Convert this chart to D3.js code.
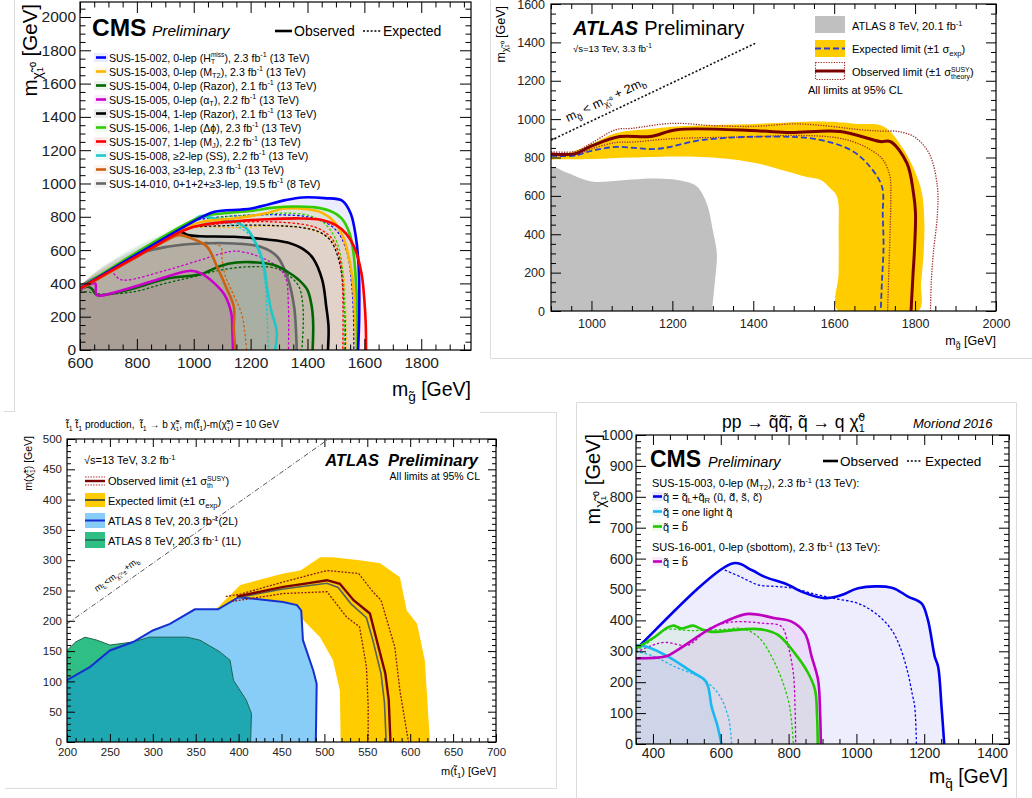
<!DOCTYPE html>
<html><head><meta charset="utf-8">
<script src="https://cdn.jsdelivr.net/npm/d3@7"></script>
<style>body{margin:0;background:#fff}svg{display:block}text{white-space:pre}</style>
</head><body>
<svg id="c" width="1032" height="798"></svg>
<script>
const T = '\u0303';
// ================= DATA =================
// ---- Panel 1: CMS gluino -> q q chi ----
const p1XTicks = [600,800,1000,1200,1400,1600,1800];
const p1YTicks = [0,200,400,600,800,1000,1200,1400,1600,1800,2000];
const p1Labels = [
 'SUS-15-002, 0-lep (H^_{miss|T}), 2.3 fb^{-1} (13 TeV)',
 'SUS-15-003, 0-lep (M_{T2}), 2.3 fb^{-1} (13 TeV)',
 'SUS-15-004, 0-lep (Razor), 2.1 fb^{-1} (13 TeV)',
 'SUS-15-005, 0-lep (α_{T}), 2.2 fb^{-1} (13 TeV)',
 'SUS-15-004, 1-lep (Razor), 2.1 fb^{-1} (13 TeV)',
 'SUS-15-006, 1-lep (Δϕ), 2.3 fb^{-1} (13 TeV)',
 'SUS-15-007, 1-lep (M_{J}), 2.2 fb^{-1} (13 TeV)',
 'SUS-15-008, ≥2-lep (SS), 2.2 fb^{-1} (13 TeV)',
 'SUS-16-003, ≥3-lep, 2.3 fb^{-1} (13 TeV)',
 'SUS-14-010, 0+1+2+≥3-lep, 19.5 fb^{-1} (8 TeV)'];
const p1Obs_HTmiss = [[600,370],[1030,800],[1073,830],[1203,850],[1322,900],[1381,916],[1460,912],[1523,896],[1552,820],[1570,680],[1580,500],[1582,220],[1578,0]];
const p1Exp_HTmiss = [[1000,780],[1100,800],[1200,810],[1300,812],[1400,800],[1470,760],[1510,700],[1540,580],[1555,400],[1562,200],[1563,0]];
const p1Obs_MT2 = [[600,372],[950,720],[1030,770],[1141,790],[1250,820],[1320,850],[1400,845],[1450,825],[1494,770],[1525,680],[1545,560],[1560,400],[1566,250],[1570,100],[1571,0]];
const p1Exp_MT2 = [[960,730],[1050,740],[1141,735],[1250,745],[1330,745],[1411,725],[1470,680],[1500,620],[1520,520],[1530,400],[1535,200],[1536,0]];
const p1Obs_Razor0 = [[600,365],[625,380],[640,370],[660,330],[700,335],[788,370],[906,430],[1023,455],[1094,505],[1150,525],[1200,528],[1282,510],[1330,470],[1370,420],[1400,360],[1415,260],[1420,160],[1418,0]];
const p1Exp_Razor0 = [[600,355],[640,345],[680,335],[790,350],[900,400],[1000,440],[1094,480],[1200,500],[1290,490],[1340,440],[1370,380],[1383,280],[1385,150],[1380,0]];
const p1Obs_AlphaT = [[600,362],[653,400],[659,330],[730,350],[848,410],[990,476],[1026,460],[1073,400],[1109,330],[1132,220],[1136,100],[1138,0]];
const p1Exp_AlphaT = [[718,460],[740,425],[766,420],[906,480],[1023,540],[1100,580],[1144,594],[1215,570],[1286,510],[1322,440],[1333,260],[1333,0]];
const p1Obs_Razor1 = [[600,372],[930,700],[950,712],[980,690],[1023,683],[1141,680],[1258,664],[1330,645],[1390,600],[1420,550],[1452,420],[1466,260],[1474,140],[1472,0]];
const p1Exp_Razor1 = [[990,740],[1100,746],[1200,750],[1300,746],[1380,735],[1440,710],[1480,660],[1505,570],[1520,460],[1528,300],[1532,150],[1532,0]];
const p1Obs_DPhi = [[600,372],[1026,800],[1100,820],[1200,835],[1282,855],[1350,862],[1420,858],[1480,835],[1520,790],[1548,700],[1562,580],[1570,420],[1575,250],[1576,0]];
const p1Exp_DPhi = [[1050,790],[1150,805],[1250,815],[1320,822],[1400,810],[1460,760],[1495,680],[1515,580],[1526,420],[1530,250],[1528,0]];
const p1Obs_MJ = [[600,370],[880,640],[930,690],[1000,740],[1070,762],[1141,772],[1258,785],[1376,790],[1447,782],[1500,750],[1535,700],[1564,620],[1590,460],[1600,300],[1605,150],[1606,0]];
const p1Exp_MJ = [[1000,740],[1100,760],[1200,770],[1300,768],[1400,750],[1450,720],[1490,660],[1512,560],[1522,420],[1525,250],[1524,0]];
const p1Obs_SS = [[600,375],[790,565],[1000,780],[1026,805],[1082,785],[1141,775],[1188,725],[1223,625],[1247,505],[1258,370],[1272,240],[1292,110],[1286,0]];
const p1Exp_SS = [[1050,760],[1120,760],[1180,715],[1215,640],[1240,520],[1252,380],[1258,200],[1262,0]];
const p1Obs_3lep = [[600,365],[800,560],[929,680],[950,690],[1000,665],[1047,620],[1082,500],[1117,365],[1141,260],[1141,120],[1147,0]];
const p1Exp_3lep = [[1040,650],[1095,620],[1100,540],[1110,450],[1132,360],[1168,220],[1180,100],[1186,0]];
const p1Obs_8TeV = [[600,385],[700,475],[788,570],[906,620],[1023,640],[1141,640],[1235,620],[1294,560],[1329,440],[1353,260],[1360,100],[1362,0]];

// ---- Panel 2: ATLAS gluino -> b b chi ----
const p2XTicks = [1000,1200,1400,1600,1800,2000];
const p2YTicks = [0,200,400,600,800,1000,1200,1400,1600];
const p2Atlas8 = [[900,745],[940,720],[1000,675],[1100,685],[1160,690],[1220,680],[1260,650],[1285,560],[1300,420],[1310,300],[1305,150],[1298,0]];
const p2ExpBandUp = [[900,825],[950,828],[1000,870],[1062,928],[1150,950],[1211,962],[1400,975],[1573,988],[1660,975],[1722,962],[1772,840],[1813,650],[1822,510],[1822,336],[1815,150],[1808,0]];
const p2ExpBandDown = [[900,790],[1000,792],[1100,800],[1244,805],[1350,790],[1409,770],[1480,730],[1530,700],[1566,684],[1590,640],[1607,597],[1611,400],[1611,200],[1610,0]];
const p2Exp = [[900,808],[960,810],[1000,835],[1062,855],[1161,845],[1277,892],[1450,909],[1558,895],[1640,840],[1681,770],[1718,649],[1720,500],[1722,336],[1718,150],[1715,0]];
const p2Obs = [[900,818],[960,820],[1000,860],[1071,909],[1145,909],[1211,945],[1409,939],[1491,930],[1615,936],[1714,883],[1739,883],[1780,770],[1796,614],[1801,510],[1798,300],[1795,197],[1790,0]];
const p2ObsUp = [[900,830],[960,832],[1000,875],[1060,945],[1100,952],[1200,978],[1300,966],[1400,962],[1500,975],[1580,965],[1650,948],[1710,938],[1760,935],[1800,905],[1835,820],[1855,650],[1855,500],[1845,300],[1840,150],[1838,0]];
const p2ObsDown = [[900,812],[960,813],[1000,845],[1060,878],[1100,880],[1200,898],[1400,908],[1500,915],[1600,905],[1650,880],[1690,840],[1720,790],[1738,700],[1740,600],[1738,400],[1735,200],[1732,0]];
const p2Kin = [[900,890],[1405,1395]];

// ---- Panel 3: ATLAS stop -> b chargino ----
const p3XTicks = [200,250,300,350,400,450,500,550,600,650,700];
const p3YTicks = [0,50,100,150,200,250,300,350,400,450,500];
const p3ExpBandUp = [[372,217],[402,259],[452,278],[472,283],[495,305],[510,305],[541,300],[565,295],[588,272],[596,217],[608,195],[617,135],[623,0]];
const p3ExpBandDown = [[372,217],[400,220],[440,215],[472,206],[495,173],[510,135],[518,85],[519,0]];
const p3Obs = [[398,240],[452,256],[476,261],[503,267],[518,261],[534,234],[553,212],[561,168],[571,113],[575,69],[577,0]];
const p3Exp = [[398,238],[450,252],[476,257],[503,262],[516,255],[531,228],[549,205],[557,165],[566,113],[570,65],[572,0]];
const p3ObsUp = [[385,240],[402,244],[452,264],[503,283],[540,278],[557,247],[566,234],[582,157],[588,85],[598,0]];
const p3ObsDown = [[392,232],[452,245],[503,248],[526,206],[541,190],[549,124],[551,60],[551,0]];
const p3Blue2L = [[200,102],[227,124],[250,151],[277,165],[300,184],[320,195],[349,219],[376,219],[400,239],[452,231],[468,226],[473,217],[475,168],[487,118],[491,96],[490,0]];
const p3Green1L = [[200,151],[210,165],[221,173],[235,168],[250,160],[277,165],[296,173],[340,173],[355,168],[378,149],[390,135],[394,102],[409,69],[415,47],[414,0]];
const p3Kin = [[200,195],[505,500]];

// ---- Panel 4: CMS squark -> q chi ----
const p4XTicks = [400,600,800,1000,1200,1400];
const p4YTicks = [0,100,200,300,400,500,600,700,800,900,1000];
const p4ObsLR = [[350,310],[357,315],[637,585],[691,563],[730,541],[799,515],[838,493],[907,472],[956,482],[1005,504],[1104,506],[1152,477],[1192,455],[1211,401],[1231,283],[1241,250],[1251,121],[1259,0]];
const p4ExpLR = [[612,563],[660,540],[710,515],[760,510],[809,505],[878,485],[940,470],[1005,455],[1060,420],[1104,369],[1130,310],[1152,229],[1165,160],[1172,121],[1177,0]];
const p4ObsOne = [[350,320],[381,315],[445,283],[514,234],[553,207],[563,185],[573,121],[590,60],[602,0]];
const p4ExpOne = [[350,300],[400,285],[465,250],[543,213],[592,164],[622,88],[632,0]];
const p4ObsSb = [[350,310],[406,347],[440,375],[460,383],[485,374],[519,383],[544,371],[573,363],[661,371],[720,371],[769,353],[818,294],[858,229],[878,175],[884,90],[886,0]];
const p4ExpSb = [[350,300],[400,340],[435,369],[514,367],[612,371],[661,374],[710,347],[760,261],[799,142],[810,60],[814,0]];
const p4ObsSb16 = [[350,277],[436,283],[465,299],[563,369],[612,396],[681,421],[760,407],[809,396],[848,358],[868,283],[887,207],[893,100],[895,0]];
const p4ExpSb16 = [[350,297],[400,320],[436,329],[504,320],[560,370],[612,391],[661,396],[720,391],[779,380],[799,315],[814,229],[819,120],[821,0]];

// ================= STYLE / HELPERS =================
const FF = '"Liberation Sans", Arial, Helvetica, sans-serif';
const svg = d3.select('#c').attr('font-family', FF);
const defs = svg.append('defs');
let clipN = 0;

function rich(sel, str, fs) {
  const parts = str.split(/(\^_\{[^}]*\}|_\{[^}]*\}|\^\{[^}]*\})/).filter(s => s);
  let off = 0, pend = 0;
  parts.forEach(p => {
    if (p.startsWith('^_{')) {
      const [a, b] = p.slice(3, -1).split('|');
      const t1 = sel.append('tspan').attr('font-size', fs * 0.62).attr('dy', -0.4 * fs - off).text(a);
      if (pend) t1.attr('dx', pend);
      off = -0.4 * fs;
      const la = t1.node().getComputedTextLength();
      const t2 = sel.append('tspan').attr('font-size', fs * 0.62).attr('dx', -la).attr('dy', 0.25 * fs - off).text(b);
      const lb = t2.node().getComputedTextLength();
      off = 0.25 * fs;
      pend = Math.max(0, la - lb);
    } else if (p.startsWith('_{')) {
      const t = sel.append('tspan').attr('font-size', fs * 0.7).attr('dy', 0.25 * fs - off).text(p.slice(2, -1));
      if (pend) t.attr('dx', pend);
      off = 0.25 * fs; pend = 0;
    } else if (p.startsWith('^{')) {
      const t = sel.append('tspan').attr('font-size', fs * 0.68).attr('dy', -0.38 * fs - off).text(p.slice(2, -1));
      if (pend) t.attr('dx', pend);
      off = -0.38 * fs; pend = 0;
    } else {
      const t = sel.append('tspan').text(p);
      if (off) t.attr('dy', -off);
      if (pend) t.attr('dx', pend);
      off = 0; pend = 0;
    }
  });
  return sel;
}
function txt(x, y, str, fs, opt = {}) {
  const t = svg.append('text').attr('x', x).attr('y', y).attr('font-size', fs)
    .attr('text-anchor', opt.anchor || 'start').attr('fill', opt.fill || '#000');
  if (opt.weight) t.attr('font-weight', opt.weight);
  if (opt.style) t.attr('font-style', opt.style);
  if (opt.rotate !== undefined) t.attr('transform', `rotate(${opt.rotate},${x},${y})`);
  return rich(t, str, fs);
}
function panel(o) {
  const x = d3.scaleLinear().domain(o.xd).range(o.xr);
  const y = d3.scaleLinear().domain(o.yd).range(o.yr);
  const g = svg.append('g');
  const id = 'clip' + (clipN++);
  defs.append('clipPath').attr('id', id).append('rect')
    .attr('x', o.xr[0]).attr('y', o.yr[1]).attr('width', o.xr[1] - o.xr[0]).attr('height', o.yr[0] - o.yr[1]);
  const plot = g.append('g').attr('clip-path', `url(#${id})`);
  const ax = g.append('g');
  const [X0, X1] = o.xr, [Y0, Y1] = o.yr;
  const minorOf = (d, step, majStep) => d3.range(Math.ceil(d[0] / step) * step, d[1] + 0.01, step).filter(v => Math.abs(v / majStep - Math.round(v / majStep)) > 1e-6);
  const xMin = minorOf(o.xd, o.xMinStep, o.xMajStep), yMin = minorOf(o.yd, o.yMinStep, o.yMajStep);
  const style = s => { s.select('.domain').remove(); s.attr('font-family', FF).attr('font-size', o.fs); s.selectAll('line').attr('stroke', '#000'); };
  const none = () => '';
  ax.append('g').attr('transform', `translate(0,${Y0})`).call(d3.axisBottom(x).tickValues(o.xTicks).tickSize(-o.maj).tickSizeOuter(0).tickPadding(o.padX).tickFormat(d3.format('d'))).call(style);
  ax.append('g').attr('transform', `translate(0,${Y0})`).call(d3.axisBottom(x).tickValues(xMin).tickSize(-o.min).tickSizeOuter(0).tickFormat(none)).call(style);
  ax.append('g').attr('transform', `translate(0,${Y1})`).call(d3.axisTop(x).tickValues(o.xTicks).tickSize(-o.maj).tickSizeOuter(0).tickFormat(none)).call(style);
  ax.append('g').attr('transform', `translate(0,${Y1})`).call(d3.axisTop(x).tickValues(xMin).tickSize(-o.min).tickSizeOuter(0).tickFormat(none)).call(style);
  ax.append('g').attr('transform', `translate(${X0},0)`).call(d3.axisLeft(y).tickValues(o.yTicks).tickSize(-o.maj).tickSizeOuter(0).tickPadding(o.padY).tickFormat(d3.format('d'))).call(style);
  ax.append('g').attr('transform', `translate(${X0},0)`).call(d3.axisLeft(y).tickValues(yMin).tickSize(-o.min).tickSizeOuter(0).tickFormat(none)).call(style);
  ax.append('g').attr('transform', `translate(${X1},0)`).call(d3.axisRight(y).tickValues(o.yTicks).tickSize(-o.maj).tickSizeOuter(0).tickFormat(none)).call(style);
  ax.append('g').attr('transform', `translate(${X1},0)`).call(d3.axisRight(y).tickValues(yMin).tickSize(-o.min).tickSizeOuter(0).tickFormat(none)).call(style);
  ax.selectAll('.tick text').attr('fill', '#222');
  g.append('rect').attr('x', X0).attr('y', Y1).attr('width', X1 - X0).attr('height', Y0 - Y1)
    .attr('fill', 'none').attr('stroke', '#000').attr('stroke-width', 1.2);
  return {x, y, g, plot};
}
const lineGen = (P, curve) => d3.line().x(d => P.x(d[0])).y(d => P.y(d[1])).curve(curve || d3.curveLinear);
function region(P, pts, x0, curve) {
  const poly = [[x0, 0]].concat(pts).concat([[pts[pts.length - 1][0], 0]]);
  return lineGen(P, curve)(poly) + 'Z';
}

// ---- frames of the four pictures ----
const sep = '#dcdcdc';
svg.append('line').attr('x1', 14.5).attr('y1', 0).attr('x2', 14.5).attr('y2', 412).attr('stroke', sep);
svg.append('line').attr('x1', 4).attr('y1', 411.5).attr('x2', 14.5).attr('y2', 411.5).attr('stroke', sep);
svg.append('line').attr('x1', 490.5).attr('y1', 0).attr('x2', 490.5).attr('y2', 358.5).attr('stroke', sep);
svg.append('line').attr('x1', 490.5).attr('y1', 358.5).attr('x2', 1032).attr('y2', 358.5).attr('stroke', sep);
svg.append('path').attr('d', 'M480,412.5H556.5V788.5H5').attr('fill', 'none').attr('stroke', sep);
svg.append('path').attr('d', 'M576.5,798V402.5H1016.5V798').attr('fill', 'none').attr('stroke', sep);

// ================= PANEL 1 =================
{
  const P = panel({xd: [600, 1975], xr: [80, 471], yd: [0, 2090], yr: [350, 2],
    xTicks: p1XTicks, yTicks: p1YTicks, xMajStep: 200, xMinStep: 50, yMajStep: 200, yMinStep: 50,
    maj: 11, min: 5.5, fs: 15.5, padX: 6.5, padY: 4});
  const cols = ['#0000ff', '#ffb400', '#006400', '#cc00cc', '#000000', '#33cc00', '#ff0000', '#1ec8c8', '#cc6010', '#666666'];
  const series = [
    {obs: p1Obs_HTmiss, exp: p1Exp_HTmiss}, {obs: p1Obs_MT2, exp: p1Exp_MT2},
    {obs: p1Obs_Razor0, exp: p1Exp_Razor0}, {obs: p1Obs_AlphaT, exp: p1Exp_AlphaT},
    {obs: p1Obs_Razor1, exp: p1Exp_Razor1}, {obs: p1Obs_DPhi, exp: p1Exp_DPhi},
    {obs: p1Obs_MJ, exp: p1Exp_MJ}, {obs: p1Obs_SS, exp: p1Exp_SS},
    {obs: p1Obs_3lep, exp: p1Exp_3lep}, {obs: p1Obs_8TeV, exp: null}];
  const cv = d3.curveCatmullRom.alpha(0.5);
  series.forEach((s, i) => P.plot.append('path').attr('d', region(P, s.obs, 600, cv))
    .attr('fill', cols[i]).attr('fill-opacity', i === 9 ? 0.14 : 0.075));
  series.forEach((s, i) => { if (s.exp) P.plot.append('path').attr('d', lineGen(P, cv)(s.exp))
    .attr('fill', 'none').attr('stroke', cols[i]).attr('stroke-width', 1.3).attr('stroke-dasharray', '2.5,2'); });
  const order = [9, 4, 2, 3, 8, 7, 1, 5, 0, 6];
  order.forEach(i => P.plot.append('path').attr('d', lineGen(P, cv)(series[i].obs))
    .attr('fill', 'none').attr('stroke', cols[i]).attr('stroke-width', 2.6).attr('stroke-linejoin', 'round'));
  // legend
  txt(92, 36, 'CMS', 24.5, {weight: 'bold'});
  txt(152, 36, 'Preliminary', 15.5, {style: 'italic'});
  svg.append('line').attr('x1', 275).attr('x2', 292).attr('y1', 31).attr('y2', 31).attr('stroke', '#000').attr('stroke-width', 2.6);
  txt(294, 36, 'Observed', 14);
  svg.append('line').attr('x1', 363).attr('x2', 381).attr('y1', 31).attr('y2', 31).attr('stroke', '#000').attr('stroke-width', 1.3).attr('stroke-dasharray', '2,1.8');
  txt(383, 36, 'Expected', 14);
  p1Labels.forEach((lab, i) => {
    const yy = 57.5 + i * 14;
    svg.append('rect').attr('x', 94).attr('y', yy - 4.5).attr('width', 14).attr('height', 9).attr('fill', cols[i]).attr('fill-opacity', 0.08);
    svg.append('line').attr('x1', 96).attr('x2', 106).attr('y1', yy).attr('y2', yy).attr('stroke', cols[i]).attr('stroke-width', 2.6);
    txt(109, yy + 4, lab, 10.6);
  });
  txt(471, 396, `m_{g${T}} [GeV]`, 19.5, {anchor: 'end'});
  txt(37, 4, `m_{χ${T}₁⁰} [GeV]`, 20.5, {anchor: 'end', rotate: -90});
}

// ================= PANEL 2 =================
{
  const P = panel({xd: [900, 2000], xr: [551, 996], yd: [0, 1600], yr: [311, 4],
    xTicks: p2XTicks, yTicks: p2YTicks, xMajStep: 200, xMinStep: 50, yMajStep: 200, yMinStep: 50,
    maj: 10, min: 5, fs: 12.5, padX: 8, padY: 6});
  const cv = d3.curveCatmullRom.alpha(0.5);
  P.plot.append('path').attr('d', region(P, p2Atlas8, 900, cv)).attr('fill', '#c0c0c0');
  const band = lineGen(P, cv)(p2ExpBandUp.concat(p2ExpBandDown.slice().reverse())) + 'Z';
  P.plot.append('path').attr('d', band).attr('fill', '#ffcc00');
  [p2ObsUp, p2ObsDown].forEach(d => P.plot.append('path').attr('d', lineGen(P, cv)(d)).attr('fill', 'none')
    .attr('stroke', '#a0302a').attr('stroke-width', 1.3).attr('stroke-dasharray', '1.3,1.3'));
  P.plot.append('path').attr('d', lineGen(P, cv)(p2Exp)).attr('fill', 'none').attr('stroke', '#2a3fd0').attr('stroke-width', 1.8).attr('stroke-dasharray', '6,3');
  P.plot.append('path').attr('d', lineGen(P, cv)(p2Obs)).attr('fill', 'none').attr('stroke', '#780000').attr('stroke-width', 3);
  P.plot.append('path').attr('d', lineGen(P)(p2Kin)).attr('fill', 'none').attr('stroke', '#111').attr('stroke-width', 1.6).attr('stroke-dasharray', '2,2');
  txt(568, 122, `m_{g${T}} < m_{χ${T}₁⁰} + 2m_{b}`, 12.5, {rotate: -25.4});
  const at = txt(573, 35, 'ATLAS', 20, {weight: 'bold', style: 'italic'});
  const aw = at.node().getComputedTextLength();
  txt(573 + aw + 6, 35, 'Preliminary', 20);
  txt(573, 52, '√s=13 TeV, 3.3 fb^{-1}', 9.5);
  svg.append('rect').attr('x', 815).attr('y', 16).attr('width', 30).attr('height', 17).attr('fill', '#c0c0c0');
  txt(852, 30, 'ATLAS 8 TeV, 20.1 fb^{-1}', 11);
  svg.append('rect').attr('x', 815).attr('y', 40).attr('width', 30).attr('height', 17).attr('fill', '#ffcc00');
  svg.append('line').attr('x1', 815).attr('x2', 845).attr('y1', 48.5).attr('y2', 48.5).attr('stroke', '#2a3fd0').attr('stroke-width', 1.8).attr('stroke-dasharray', '6,3');
  txt(852, 53, 'Expected limit (±1 σ_{exp})', 11);
  svg.append('rect').attr('x', 815.5).attr('y', 62.5).attr('width', 29).attr('height', 17).attr('fill', 'none').attr('stroke', '#a0302a').attr('stroke-width', 1.2).attr('stroke-dasharray', '1.3,1.3');
  svg.append('line').attr('x1', 815).attr('x2', 845).attr('y1', 71).attr('y2', 71).attr('stroke', '#780000').attr('stroke-width', 3);
  txt(852, 76, 'Observed limit (±1 σ^_{SUSY|theory})', 11);
  txt(808, 94, 'All limits at 95% CL', 11);
  txt(996, 345, `m_{g${T}} [GeV]`, 12.5, {anchor: 'end'});
  txt(505, 6, `m_{χ${T}₁⁰} [GeV]`, 12.5, {anchor: 'end', rotate: -90});
}

// ================= PANEL 3 =================
{
  const P = panel({xd: [200, 700], xr: [67, 496], yd: [0, 500], yr: [742, 439],
    xTicks: p3XTicks, yTicks: p3YTicks, xMajStep: 50, xMinStep: 10, yMajStep: 50, yMinStep: 10,
    maj: 8, min: 4, fs: 11.5, padX: 6, padY: 5});
  const lin = d3.curveLinear;
  const band = lineGen(P)(p3ExpBandUp.concat(p3ExpBandDown.slice().reverse())) + 'Z';
  P.plot.append('path').attr('d', band).attr('fill', '#ffcc00');
  const greenD = region(P, p3Green1L, 200, lin), blueD = region(P, p3Blue2L, 200, lin);
  P.plot.append('path').attr('d', greenD).attr('fill', '#2fbe84');
  P.plot.append('path').attr('d', blueD).attr('fill', '#88ccf8');
  defs.append('clipPath').attr('id', 'blueclip').append('path').attr('d', blueD);
  P.plot.append('g').attr('clip-path', 'url(#blueclip)').append('path').attr('d', greenD).attr('fill', '#20a8b2');
  P.plot.append('path').attr('d', lineGen(P)(p3Green1L)).attr('fill', 'none').attr('stroke', '#1d6650').attr('stroke-width', 1);
  P.plot.append('path').attr('d', lineGen(P)(p3Blue2L)).attr('fill', 'none').attr('stroke', '#1530d0').attr('stroke-width', 2);
  [p3ObsUp, p3ObsDown].forEach(d => P.plot.append('path').attr('d', lineGen(P)(d)).attr('fill', 'none')
    .attr('stroke', '#8b1a1a').attr('stroke-width', 1.3).attr('stroke-dasharray', '2,1.5'));
  P.plot.append('path').attr('d', lineGen(P)(p3Exp)).attr('fill', 'none').attr('stroke', '#56625a').attr('stroke-width', 1.6);
  P.plot.append('path').attr('d', lineGen(P)(p3Obs)).attr('fill', 'none').attr('stroke', '#7a0000').attr('stroke-width', 2.4);
  P.plot.append('path').attr('d', lineGen(P)(p3Kin)).attr('fill', 'none').attr('stroke', '#555').attr('stroke-width', 1).attr('stroke-dasharray', '5,2,1,2');
  txt(97, 592, `m_{t${T}₁}<m_{χ${T}₁^±}+m_{b}`, 9, {rotate: -35.2});
  txt(66, 428, `t${T}_{1} t${T}_{1} production,  t${T}_{1} → b χ${T}^_{±|1}, m(t${T}_{1})-m(χ${T}^_{±|1}) = 10 GeV`, 10);
  txt(84, 464, '√s=13 TeV, 3.2 fb^{-1}', 11);
  txt(478, 466, 'ATLAS  Preliminary', 16.5, {anchor: 'end', weight: 'bold', style: 'italic'});
  txt(480, 480, 'All limits at 95% CL', 10.5, {anchor: 'end'});
  // legend icons
  svg.append('line').attr('x1', 85).attr('x2', 105).attr('y1', 481).attr('y2', 481).attr('stroke', '#7a0000').attr('stroke-width', 2.4);
  [477, 485].forEach(v => svg.append('line').attr('x1', 85).attr('x2', 105).attr('y1', v).attr('y2', v).attr('stroke', '#b03030').attr('stroke-width', 1.2).attr('stroke-dasharray', '1.5,1.2'));
  txt(108, 485, 'Observed limit (±1 σ^_{SUSY|th})', 11);
  svg.append('rect').attr('x', 85).attr('y', 493).attr('width', 20).attr('height', 14).attr('fill', '#ffcc00');
  svg.append('line').attr('x1', 85).attr('x2', 105).attr('y1', 500).attr('y2', 500).attr('stroke', '#404a40').attr('stroke-width', 1.8);
  txt(108, 505, 'Expected limit (±1 σ_{exp})', 11);
  svg.append('rect').attr('x', 85).attr('y', 513).attr('width', 20).attr('height', 15).attr('fill', '#88ccf8');
  svg.append('line').attr('x1', 85).attr('x2', 105).attr('y1', 520.5).attr('y2', 520.5).attr('stroke', '#1530d0').attr('stroke-width', 2);
  txt(108, 525, 'ATLAS 8 TeV, 20.3 fb^{-1}(2L)', 11);
  svg.append('rect').attr('x', 85).attr('y', 532).attr('width', 20).attr('height', 16).attr('fill', '#2fbe84');
  svg.append('line').attr('x1', 85).attr('x2', 105).attr('y1', 540).attr('y2', 540).attr('stroke', '#1d6650').attr('stroke-width', 1.5);
  txt(108, 545, 'ATLAS 8 TeV, 20.3 fb^{-1} (1L)', 11);
  txt(496, 775, `m(t${T}_{1}) [GeV]`, 11, {anchor: 'end'});
  txt(32, 436, `m(χ${T}^_{±|1}) [GeV]`, 10.5, {anchor: 'end', rotate: -90});
}

// ================= PANEL 4 =================
{
  const P = panel({xd: [350, 1450], xr: [636, 1009], yd: [0, 1000], yr: [744, 435],
    xTicks: p4XTicks, yTicks: p4YTicks, xMajStep: 200, xMinStep: 50, yMajStep: 100, yMinStep: 20,
    maj: 10, min: 5, fs: 14, padX: 4, padY: 3});
  const cv = d3.curveCatmullRom.alpha(0.5);
  const cols = ['#0000ee', '#1ab8f0', '#22c800', '#c000c0'];
  const series = [{obs: p4ObsLR, exp: p4ExpLR}, {obs: p4ObsOne, exp: p4ExpOne}, {obs: p4ObsSb, exp: p4ExpSb}, {obs: p4ObsSb16, exp: p4ExpSb16}];
  series.forEach((s, i) => P.plot.append('path').attr('d', region(P, s.obs, 350, cv)).attr('fill', cols[i]).attr('fill-opacity', 0.07));
  series.forEach((s, i) => P.plot.append('path').attr('d', lineGen(P, cv)(s.exp)).attr('fill', 'none')
    .attr('stroke', cols[i]).attr('stroke-width', 1.3).attr('stroke-dasharray', '2.5,2'));
  series.forEach((s, i) => P.plot.append('path').attr('d', lineGen(P, cv)(s.obs)).attr('fill', 'none')
    .attr('stroke', cols[i]).attr('stroke-width', 2.6).attr('stroke-linejoin', 'round'));
  txt(722, 428, `pp → q${T}q${T}\u0304, q${T} → q χ${T}^_{0|1}`, 17.5);
  txt(913, 428, 'Moriond 2016', 13, {style: 'italic'});
  txt(650, 467, 'CMS', 23, {weight: 'bold'});
  txt(708, 467, 'Preliminary', 14.5, {style: 'italic'});
  svg.append('line').attr('x1', 823).attr('x2', 838).attr('y1', 461).attr('y2', 461).attr('stroke', '#000').attr('stroke-width', 2.6);
  txt(840, 466, 'Observed', 13.5);
  svg.append('line').attr('x1', 907).attr('x2', 922).attr('y1', 461).attr('y2', 461).attr('stroke', '#000').attr('stroke-width', 1.3).attr('stroke-dasharray', '2,1.8');
  txt(925, 466, 'Expected', 13.5);
  txt(652, 487, 'SUS-15-003, 0-lep (M_{T2}), 2.3 fb^{-1} (13 TeV):', 11);
  const labs = [`q${T} = q${T}_{L}+q${T}_{R} (u${T}, d${T}, s${T}, c${T})`, `q${T} = one light q${T}`, `q${T} = b${T}`];
  labs.forEach((l, i) => {
    const yy = 496.5 + i * 15;
    svg.append('rect').attr('x', 652).attr('y', yy - 4.5).attr('width', 11).attr('height', 9).attr('fill', cols[i]).attr('fill-opacity', 0.08);
    svg.append('line').attr('x1', 653).attr('x2', 662).attr('y1', yy).attr('y2', yy).attr('stroke', cols[i]).attr('stroke-width', 2.6);
    txt(663, yy + 4, l, 11);
  });
  txt(652, 551, 'SUS-16-001, 0-lep (sbottom), 2.3 fb^{-1} (13 TeV):', 11);
  svg.append('rect').attr('x', 652).attr('y', 557).attr('width', 11).attr('height', 9).attr('fill', cols[3]).attr('fill-opacity', 0.08);
  svg.append('line').attr('x1', 653).attr('x2', 662).attr('y1', 561.5).attr('y2', 561.5).attr('stroke', cols[3]).attr('stroke-width', 2.6);
  txt(663, 566, `q${T} = b${T}`, 11);
  txt(1008, 783, `m_{q${T}} [GeV]`, 19.5, {anchor: 'end'});
  txt(600, 434, `m_{χ${T}₁⁰} [GeV]`, 20, {anchor: 'end', rotate: -90});
}
</script>
</body></html>
